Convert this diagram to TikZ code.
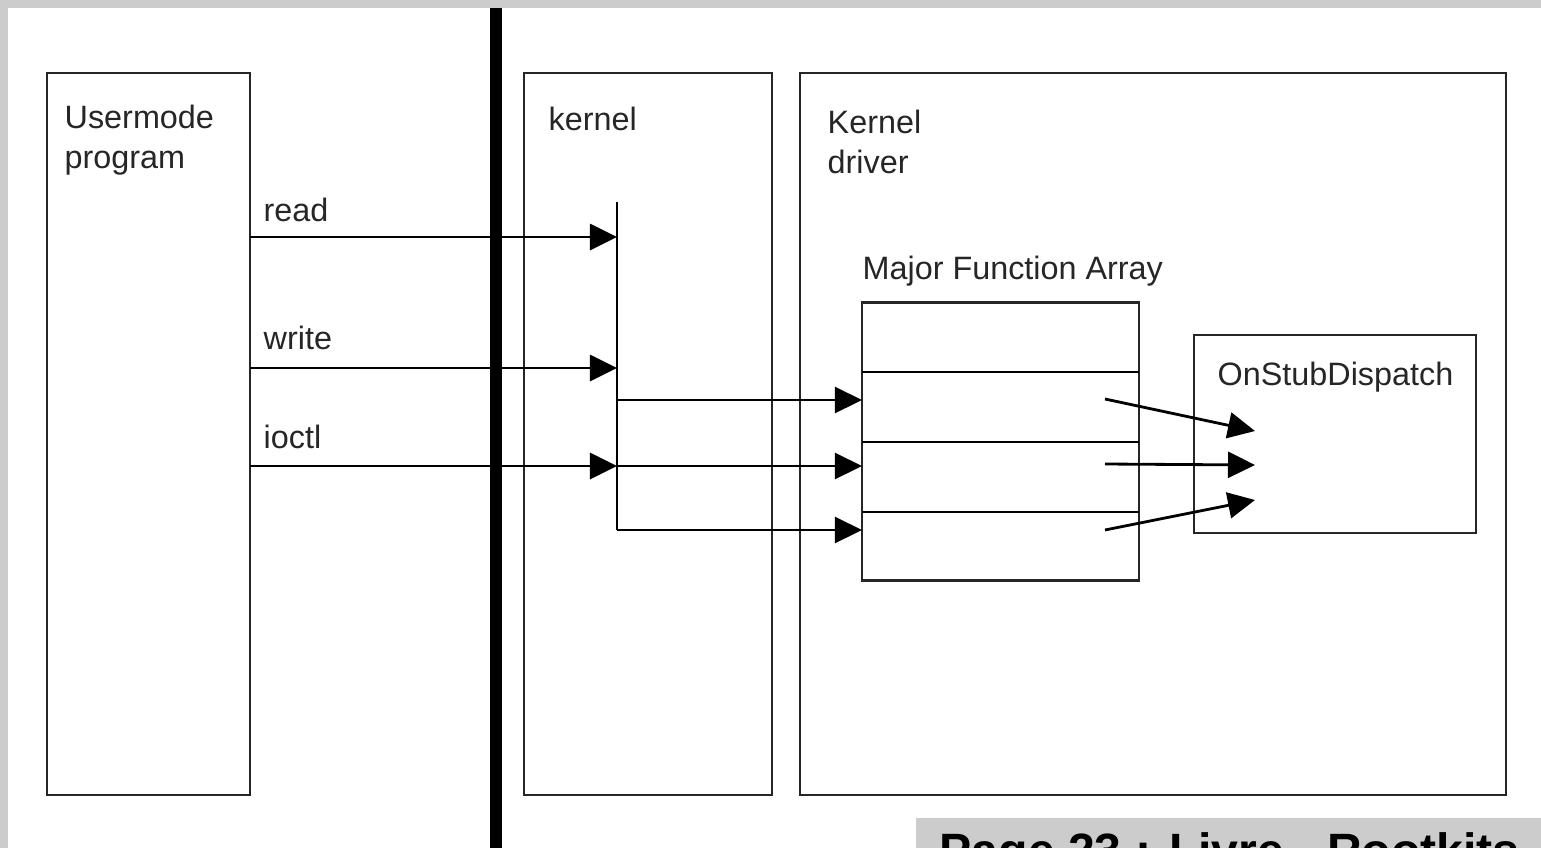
\documentclass[tikz,border=0pt]{standalone}
\usepackage{fontspec}
\setmainfont{Liberation Sans}
\usetikzlibrary{arrows.meta}

\tikzset{
  box/.style={draw=black!85, line width=0.7pt, inner sep=0pt, outer sep=0pt},
  lbl/.style={font=\fontsize{9.2}{11.4}\selectfont, text=black!85, inner sep=0pt, align=left},
  pfeil/.style={line width=0.8pt, -{Triangle[length=0.27cm, width=0.26cm]}},
  linie/.style={line width=0.8pt},
}

\begin{document}
\begin{tikzpicture}[x=0.01cm, y=-0.01cm]
  % Hintergrund
  \useasboundingbox (0,0) rectangle (1541,848);
  \clip (0,0) rectangle (1541,848);
  \fill[black!20] (0,0) rectangle (1541,848);
  \fill[white] (8,8) rectangle (1541,848);

  % Boxen
  \node[box, minimum width=2.03cm, minimum height=7.22cm] (user) at (148.5,434) {};
  \node[box, minimum width=2.48cm, minimum height=7.22cm] (kernel) at (648,434) {};
  \node[box, minimum width=7.06cm, minimum height=7.22cm] (driver) at (1153,434) {};
  \node[box, minimum width=2.77cm, minimum height=2.78cm] (mfa) at (1000.5,441.5) {};
  \node[box, minimum width=2.82cm, minimum height=1.98cm] (stub) at (1335,434) {};

  % Grenze User/Kernel
  \coordinate (grenzeoben) at (496,8);
  \coordinate (grenzeunten) at (496,848);
  \draw[line width=3.4pt] (grenzeoben) -- (grenzeunten);

  % Beschriftungen
  \node[lbl, anchor=north west] (usertext) at (64,104) {Usermode\\program};
  \node[lbl, anchor=base west] (kerneltext) at (548,130) {kernel};
  \node[lbl, anchor=north west] (drivertext) at (827,109) {Kernel\\driver};
  \node[lbl, anchor=base west] (mfatext) at (862,279) {Major Function Array};
  \node[lbl, anchor=base west] (stubtext) at (1217,385) {OnStubDispatch};
  \node[lbl, anchor=base west] (readtext) at (263,221) {read};
  \node[lbl, anchor=base west] (writetext) at (263,349) {write};
  \node[lbl, anchor=base west] (ioctltext) at (263,448) {ioctl};

  % Tabelle
  \foreach \y/\n in {372/a,442/b,512/c}
    \draw[linie] (mfa.west |- 0,\y) coordinate (slot\n) -- (mfa.east |- 0,\y);

  % Verteiler im Kernel
  \coordinate (joben) at (617,202);
  \coordinate (jread) at (617,237);
  \coordinate (jwrite) at (617,368);
  \coordinate (jeins) at (617,400);
  \coordinate (jioctl) at (617,466);
  \coordinate (junten) at (617,530);
  \draw[linie] (joben) -- (junten);

  % Aufrufe
  \draw[pfeil] (user.east |- jread) -- (jread);
  \draw[pfeil] (user.east |- jwrite) -- (jwrite);
  \draw[pfeil] (user.east |- jioctl) -- (jioctl);
  \draw[pfeil] (jeins) -- (mfa.west |- jeins);
  \draw[pfeil] (jioctl) -- (mfa.west |- jioctl);
  \draw[pfeil] (junten) -- (mfa.west |- junten);

  % Eintraege -> OnStubDispatch
  \coordinate (ea) at (1105,399);
  \coordinate (eb) at (1105,464);
  \coordinate (ec) at (1105,530);
  \coordinate (sa) at (1255,431);
  \coordinate (sb) at (1255,465);
  \coordinate (sc) at (1255,500);
  \draw[pfeil] (ea) -- (sa);
  \draw[pfeil] (eb) -- (sb);
  \draw[pfeil] (ec) -- (sc);

  % Seitenangabe
  \fill[black!20] (916,818) rectangle (1541,848);
  \node[font=\bfseries\fontsize{13.7}{16}\selectfont, inner sep=0pt, anchor=base west] (seite) at (939,867) {Page 23 : Livre - Rootkits};
\end{tikzpicture}
\end{document}
